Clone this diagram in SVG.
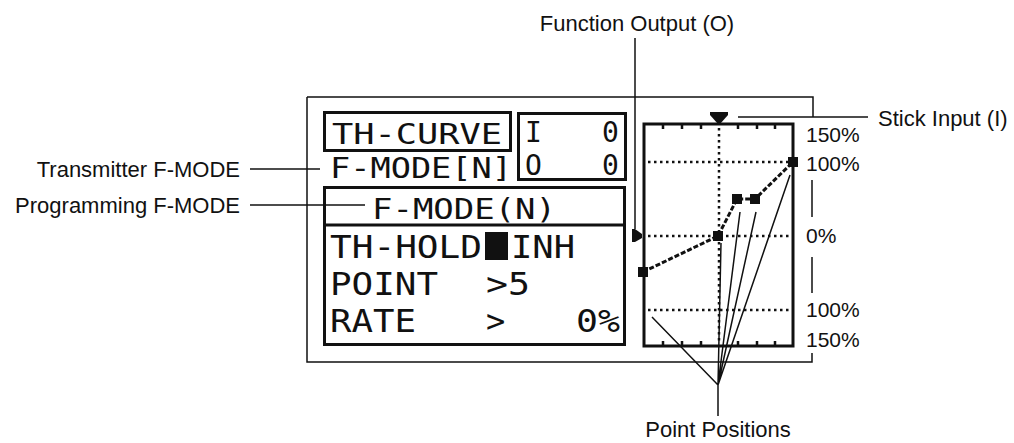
<svg xmlns="http://www.w3.org/2000/svg" width="1014" height="443" viewBox="0 0 1014 443">
<style>
.lbl{font-family:"Liberation Sans",Arial,sans-serif;font-size:22px;fill:#111}
.pct{font-family:"Liberation Sans",Arial,sans-serif;font-size:21px;fill:#111}
.lcd{font-family:"DejaVu Sans Mono",monospace;font-size:32px;fill:#111}
.lcs{font-family:"DejaVu Sans Mono",monospace;font-size:28px;fill:#111}
.thin{stroke:#111;stroke-width:1.5;fill:none}
.box{stroke:#111;stroke-width:3;fill:none}
.dot{stroke:#111;stroke-width:2.5;stroke-dasharray:2.5 3.5;fill:none}
.curve{stroke:#111;stroke-width:3;stroke-dasharray:5 2;fill:none}
</style>
<rect width="1014" height="443" fill="#fff"/>

<g id="frame">
  <path class="thin" d="M307 97 H813 V117 M307 97 V362 H812 V353 M812 180 V217 M812 257 V293"/>
</g>

<g id="th-curve">
  <rect class="box" x="324.5" y="112.5" width="186" height="38"/>
  <text class="lcs" x="332" y="144" textLength="170" lengthAdjust="spacingAndGlyphs">TH-CURVE</text>
</g>
<g id="io-box">
  <rect class="box" x="518.5" y="113.5" width="107" height="66"/>
  <text class="lcs" x="525" y="142">I</text>
  <text class="lcs" x="602" y="142">0</text>
  <text class="lcs" x="525" y="175">O</text>
  <text class="lcs" x="602" y="175">0</text>
</g>
<g id="tx-fmode">
  <text class="lcs" x="330" y="178" textLength="182" lengthAdjust="spacingAndGlyphs">F-MODE[N]</text>
</g>
<g id="prog-box">
  <rect class="box" x="324.5" y="187.5" width="300" height="157"/>
  <line class="box" x1="324" y1="225" x2="625" y2="225"/>
  <text class="lcs" x="372" y="219" textLength="184" lengthAdjust="spacingAndGlyphs">F-MODE(N)</text>
  <text class="lcd" x="330" y="258" textLength="152" lengthAdjust="spacingAndGlyphs">TH-HOLD</text>
  <rect x="485" y="232" width="23" height="28" fill="#111"/>
  <text class="lcd" x="511" y="258" textLength="64" lengthAdjust="spacingAndGlyphs">INH</text>
  <text class="lcd" x="330" y="295" textLength="108" lengthAdjust="spacingAndGlyphs">POINT</text>
  <text class="lcd" x="486" y="295" textLength="44" lengthAdjust="spacingAndGlyphs">&gt;5</text>
  <text class="lcd" x="330" y="332" textLength="86" lengthAdjust="spacingAndGlyphs">RATE</text>
  <text class="lcd" x="486" y="332">&gt;</text>
  <text class="lcd" x="576" y="332" textLength="44" lengthAdjust="spacingAndGlyphs">0%</text>
</g>

<g id="graph">
  <line class="dot" x1="719" y1="128" x2="719" y2="343"/>
  <line class="dot" x1="648" y1="162" x2="790" y2="162"/>
  <line class="dot" x1="648" y1="236" x2="790" y2="236"/>
  <line class="dot" x1="648" y1="310" x2="790" y2="310"/>
  <rect class="box" x="644" y="124" width="149" height="222"/>
  <path stroke="#111" stroke-width="2.5" d="M663 124v5M682 124v5M701 124v5M738 124v5M757 124v5M775 124v5M663 346v-5M682 346v-5M701 346v-5M738 346v-5M757 346v-5M775 346v-5"/>
  <polygon points="710,112 728,112 728,115 720,124 718,124 710,115" fill="#111"/>
  <polygon points="632,229 635,229 642,234 642,238 635,242 632,242" fill="#111"/>
  <polyline class="curve" points="643,272 718,236 737,199 755,199 793,162"/>
  <g fill="#111">
    <rect x="638" y="267" width="10" height="10"/>
    <rect x="713" y="231" width="10" height="10"/>
    <rect x="732" y="194" width="10" height="10"/>
    <rect x="750" y="194" width="10" height="10"/>
    <rect x="788" y="157" width="10" height="10"/>
  </g>
  <text class="pct" x="806" y="142">150%</text>
  <text class="pct" x="806" y="171">100%</text>
  <text class="pct" x="806" y="243">0%</text>
  <text class="pct" x="806" y="317">100%</text>
  <text class="pct" x="806" y="347">150%</text>
</g>

<g id="connectors">
  <path class="thin" d="M250 169 H320"/>
  <path class="thin" d="M250 205 H365"/>
  <path class="thin" d="M635 38 V229"/>
  <path class="thin" d="M738 117 H868"/>
  <path class="thin" d="M718 385 V416 M718 385 L652 317 M718 385 L721 243 M718 385 L740 212 M718 385 L756 212 M718 385 L790 175"/>
</g>

<g id="labels">
  <text class="lbl" x="240" y="177" text-anchor="end">Transmitter F-MODE</text>
  <text class="lbl" x="240" y="213" text-anchor="end">Programming F-MODE</text>
  <text class="lbl" x="637" y="31" text-anchor="middle">Function Output (O)</text>
  <text class="lbl" x="878" y="126">Stick Input (I)</text>
  <text class="lbl" x="718" y="437" text-anchor="middle">Point Positions</text>
</g>
</svg>
